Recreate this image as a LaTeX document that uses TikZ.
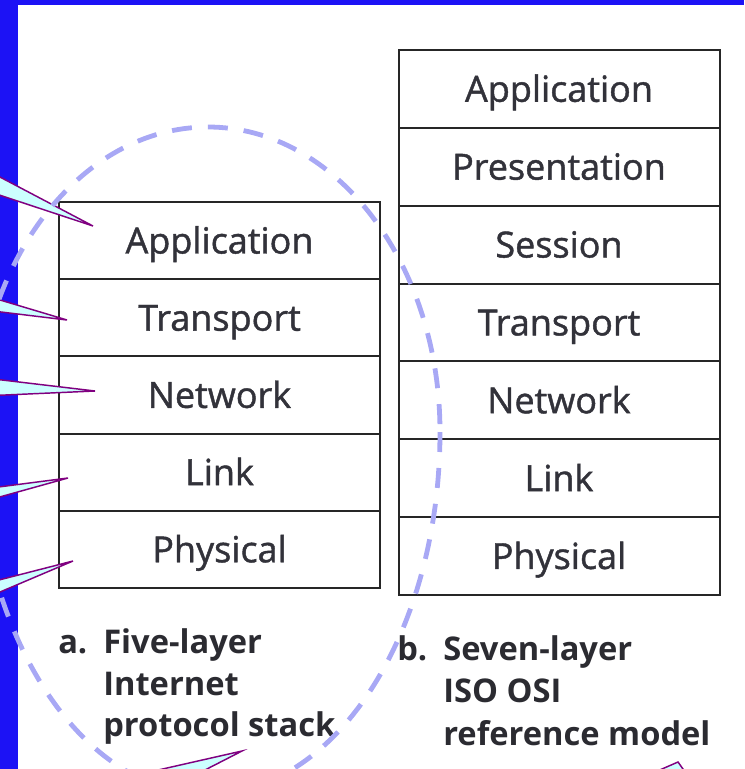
\documentclass[tikz,border=0pt]{standalone}
\usepackage{fontspec}
\setmainfont{Open Sans}
\newfontfamily\layerfont{Open Sans}[FakeBold=1.2]
\usetikzlibrary{positioning}
\definecolor{slideblue}{RGB}{28,18,245}
\definecolor{ovalblue}{RGB}{168,168,245}
\definecolor{wedgefill}{RGB}{204,255,255}
\definecolor{wedgeline}{RGB}{128,0,128}
\definecolor{inkgray}{RGB}{50,50,58}

\tikzstyle{layer} = [draw=black!85,line width=1.5pt,outer sep=0pt,minimum width=240.75pt,text=inkgray,font=\layerfont\fontsize{27}{30}\selectfont,text height=19.3pt,text depth=0pt]
\tikzstyle{fivelayer} = [layer,minimum height=57.9pt]
\tikzstyle{sevenlayer} = [layer,minimum height=58.4pt]
\tikzstyle{caption} = [anchor=base west,inner sep=0pt,text=inkgray!85!black,font=\fontsize{24.5}{28}\selectfont\bfseries]
\tikzstyle{pointer} = [fill=wedgefill,draw=wedgeline,line width=1.1pt,line join=miter]
\tikzstyle{oval} = [draw=ovalblue,line width=3.6pt,dash pattern=on 15pt off 12pt]

\begin{document}
\begin{tikzpicture}[x=0.75pt,y=-0.75pt]
      \useasboundingbox (0,0) rectangle (744,769);
      \clip (0,0) rectangle (744,769);
      % slide border
      \fill[slideblue] (0,0) rectangle (18,769);
      \fill[slideblue] (0,0) rectangle (744,5);

      % five-layer stack
      \node[fivelayer] (fapp) at (219.5,240.6) {Application};
      \foreach \nodename/\prev/\lname in {
        ftrans/fapp/Transport, fnet/ftrans/Network, flink/fnet/Link, fphys/flink/Physical}
      {
        \node[fivelayer, below=0pt of \prev] (\nodename) {\lname};
      };

      % seven-layer stack
      \node[sevenlayer] (sapp) at (559,88.9) {Application};
      \foreach \nodename/\prev/\lname in {
        spres/sapp/Presentation, ssess/spres/Session, strans/ssess/Transport,
        snet/strans/Network, slink/snet/Link, sphys/slink/Physical}
      {
        \node[sevenlayer, below=0pt of \prev] (\nodename) {\lname};
      };

      % captions
      \foreach \nodename/\x/\y/\lname in {
        capa/58/653/a., capa1/103/653/Five-layer, capa2/103/695/Internet, capa3/103/736/protocol stack,
        capb/397/660/b., capb1/443/660/Seven-layer, capb2/443/702/ISO OSI, capb3/443/745/reference model}
      {
        \node[caption] (\nodename) at (\x,\y) {\lname};
      };

      % callout pointers
      \foreach \ax/\ay/\tx/\ty/\bx/\by in {
        -40/156/93/226/-40/182, -40/288/67/320/-40/307, -40/375/95/391/-40/397,
        -40/492/68/478/-40/508, -40/590/73/561/-40/609,
        70/790/242/751/166/790, 614/790/678/762/698/790}
      {
        \filldraw[pointer] (\ax,\ay) -- (\tx,\ty) -- (\bx,\by) -- cycle;
      };

      % dashed oval
      \draw[oval] (440,432) arc[start angle=0,end angle=180,x radius=232,y radius=362]
        arc[start angle=180,end angle=360,x radius=232,y radius=305];
    \end{tikzpicture}
\end{document}
